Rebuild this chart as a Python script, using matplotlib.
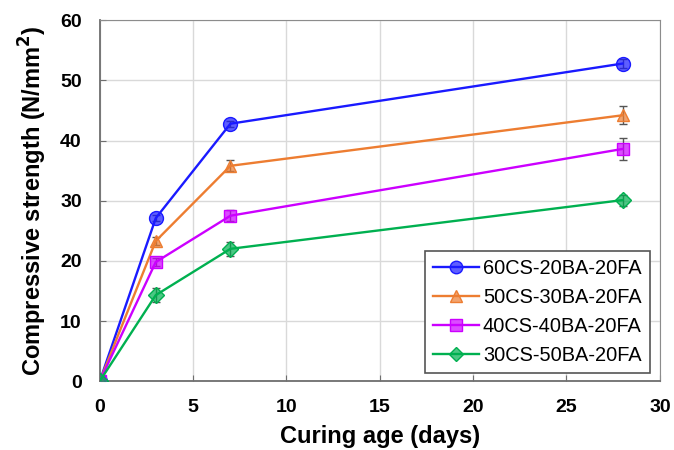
import numpy as np
import matplotlib
matplotlib.use('Agg')
import matplotlib.pyplot as plt
from matplotlib.lines import Line2D

plt.rcParams['font.family'] = ['Liberation Sans', 'DejaVu Sans']

# curing age (days) and strengths (N/mm2)
days = [0, 3, 7, 28]
labels = ['60CS-20BA-20FA', '50CS-30BA-20FA', '40CS-40BA-20FA', '30CS-50BA-20FA']
s60 = [0, 27.1, 42.8, 52.8]
s50 = [0, 23.3, 35.8, 44.2]
s40 = [0, 19.8, 27.5, 38.6]
s30 = [0, 14.3, 22.0, 30.1]
e60 = [0, 0.5, 0.5, 0.8]
e50 = [0, 0.6, 0.9, 1.5]
e40 = [0, 0.7, 0.9, 1.8]
e30 = [0, 1.2, 1.2, 0.9]

series = [s60, s50, s40, s30]
errs = [e60, e50, e40, e30]
colors = ['#1a1aff', '#ed7d31', '#cc00ff', '#00b050']
markers = ['o', '^', 's', 'D']
msizes = [10, 9, 9, 8]

fig = plt.figure(figsize=(6.74, 4.5), dpi=100)
ax = fig.add_axes([0.148, 0.153, 0.831, 0.802])

handles = []
for s, e, c, m, ms, lab in zip(series, errs, colors, markers, msizes, labels):
    mfc = matplotlib.colors.to_rgba(c, 0.7)
    ax.errorbar(days, s, yerr=e, color=c, lw=1.7, marker=m, ms=ms,
                mfc=mfc, mec=c, ecolor='#555555', elinewidth=1, capsize=3, zorder=3)
    handles.append(Line2D([], [], color=c, lw=1.7, marker=m, ms=ms - 1, mfc=mfc, mec=c))

ax.set_xlim(0, 30)
ax.set_ylim(0, 60)
ax.set_xticks(np.arange(0, 31, 5))
ax.set_yticks(np.arange(0, 61, 10))
ax.grid(True, color='#d9d9d9', lw=1)
ax.set_axisbelow(True)
for sp in ['top', 'right']:
    ax.spines[sp].set_color('#8c8c8c')
for sp in ['left', 'bottom']:
    ax.spines[sp].set_color('#6e6e6e')
    ax.spines[sp].set_linewidth(1.3)
ax.tick_params(direction='in', labelsize=14, colors='#6e6e6e', labelcolor='black',
               length=4, pad=13)
for t in ax.get_xticklabels() + ax.get_yticklabels():
    t.set_fontweight('bold')
ax.set_xlabel('Curing age (days)', fontsize=17, fontweight='bold', labelpad=6)
ax.set_ylabel('Compressive strength (N/mm$^\\mathbf{2}$)', fontsize=17, fontweight='bold', labelpad=8)

leg = ax.legend(handles, labels, loc='lower right', fontsize=14.4, fancybox=False,
                edgecolor='#555555', framealpha=1, borderpad=0.4, labelspacing=0.5,
                handlelength=2.3, handletextpad=0.2, borderaxespad=0,
                bbox_to_anchor=(0.982, 0.022))
leg.get_frame().set_linewidth(1.2)

fig.savefig('out.png', dpi=100)
